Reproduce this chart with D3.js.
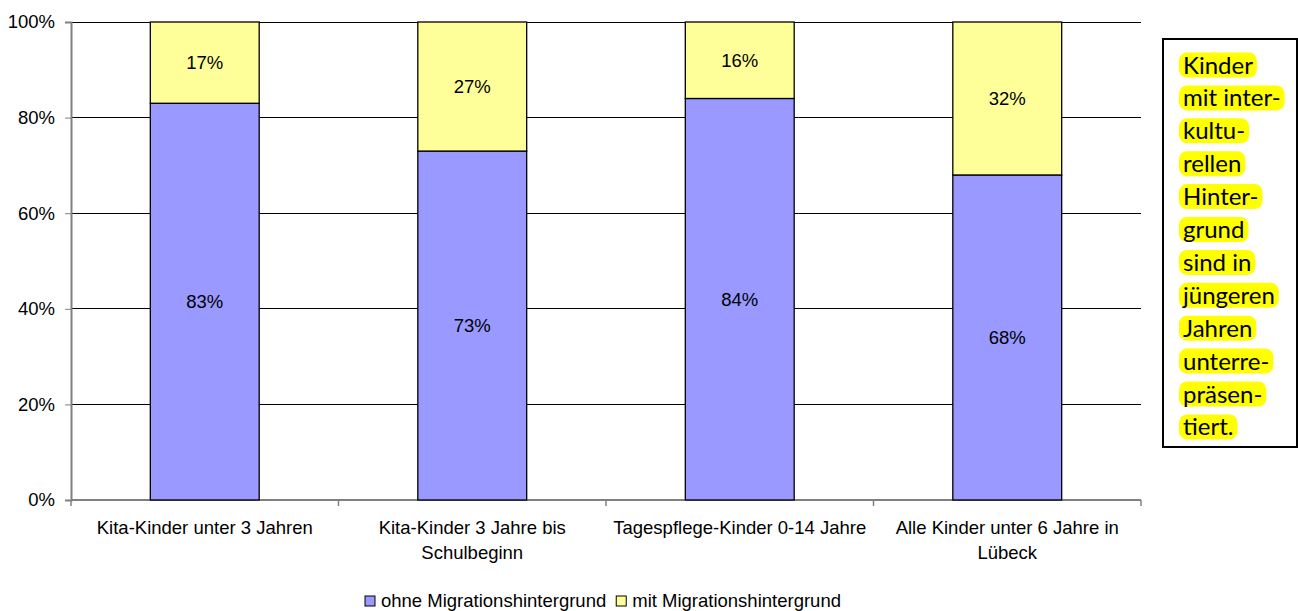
<!DOCTYPE html>
<html><head><meta charset="utf-8">
<script src="https://cdn.jsdelivr.net/npm/d3@7"></script>
<style>body{margin:0;background:#fff}svg{display:block}</style>
</head><body>
<svg id="c" width="1298" height="611"></svg>
<script>
const categories = [["Kita-Kinder unter 3 Jahren"],["Kita-Kinder 3 Jahre bis","Schulbeginn"],["Tagespflege-Kinder 0-14 Jahre"],["Alle Kinder unter 6 Jahre in","Lübeck"]];
const ohne = [83, 73, 84, 68];
const mit = [17, 27, 16, 32];
const seriesNames = ["ohne Migrationshintergrund", "mit Migrationshintergrund"];
const seriesColors = ["#9999FF", "#FFFF99"];
const yTicks = [0, 20, 40, 60, 80, 100];
const noteLines = ["Kinder","mit inter-","kultu-","rellen","Hinter-","grund","sind in","jüngeren","Jahren","unterre-","präsen-","tiert."];

const svg = d3.select("#c");
const F = "'Liberation Sans', Arial, sans-serif";
const FS = 18.5;
const L = 71, R = 1141, T = 22, B = 500;
const x = d3.scaleBand().domain(d3.range(categories.length)).range([L, R]).paddingInner(0.593).paddingOuter(0.2965);
const xc = d3.scaleBand().domain(d3.range(categories.length)).range([L, R]);
const y = d3.scaleLinear().domain([0, 100]).range([B, T]);

// gridlines
svg.append("g").selectAll("line").data(yTicks.filter(d => d > 0)).join("line")
  .attr("x1", L).attr("x2", R).attr("y1", d => y(d)).attr("y2", d => y(d))
  .attr("stroke", "#000").attr("stroke-width", 1).attr("shape-rendering", "crispEdges");

// y axis
const ya = svg.append("g").attr("transform", `translate(${L},0)`)
  .call(d3.axisLeft(y).tickValues(yTicks).tickFormat(d => d + "%").tickSize(6).tickPadding(10));
ya.select(".domain").attr("stroke", "#808080").attr("stroke-width", 2);
ya.selectAll(".tick line").attr("stroke", "#808080");
ya.selectAll(".tick text").attr("font-family", F).attr("font-size", FS).attr("fill", "#000");

// x axis
const xa = svg.append("g").attr("transform", `translate(0,${B})`);
xa.append("line").attr("x1", L).attr("x2", R).attr("stroke", "#808080").attr("stroke-width", 2);
xa.selectAll("line.tk").data(d3.range(categories.length + 1)).join("line").attr("class", "tk")
  .attr("x1", i => i < categories.length ? xc(i) : R).attr("x2", i => i < categories.length ? xc(i) : R)
  .attr("y1", 0).attr("y2", 6).attr("stroke", "#808080").attr("stroke-width", 1.5);
xa.selectAll("text").data(categories).join("text")
  .attr("text-anchor", "middle").attr("font-family", F).attr("font-size", FS)
  .each(function(d, i) {
    d3.select(this).selectAll("tspan").data(d).join("tspan")
      .attr("x", xc(i) + xc.bandwidth() / 2).attr("y", (t, j) => 34 + j * 25).text(t => t);
  });

// bars
const stackData = categories.map((c, i) => [[0, ohne[i]], [ohne[i], ohne[i] + mit[i]]]);
const vals = [ohne, mit];
const g = svg.append("g");
categories.forEach((c, i) => {
  [0, 1].forEach(s => {
    const [a, b] = stackData[i][s];
    g.append("rect").attr("x", x(i)).attr("width", x.bandwidth())
      .attr("y", y(b)).attr("height", y(a) - y(b))
      .attr("fill", seriesColors[s]).attr("stroke", "#000").attr("stroke-width", 1.3);
    g.append("text").attr("x", x(i) + x.bandwidth() / 2).attr("y", (y(a) + y(b)) / 2 + 6.5)
      .attr("text-anchor", "middle").attr("font-family", F).attr("font-size", FS)
      .text(vals[s][i] + "%");
  });
});

// legend
const lg = svg.append("g");
let lx = 365;
seriesNames.forEach((n, s) => {
  lg.append("rect").attr("x", lx).attr("y", 596).attr("width", 10).attr("height", 10)
    .attr("fill", seriesColors[s]).attr("stroke", "#000").attr("stroke-width", 1);
  const t = lg.append("text").attr("x", lx + 16).attr("y", 607).attr("font-family", F).attr("font-size", FS).text(n);
  lx = lx + 16 + t.node().getComputedTextLength() + 10;
});

// note box
svg.append("rect").attr("x", 1163).attr("y", 39).attr("width", 134).attr("height", 408)
  .attr("fill", "#fff").attr("stroke", "#000").attr("stroke-width", 2);
const ng = svg.append("g");
noteLines.forEach((t, i) => {
  const cy = 65 + i * 32.9;
  const hl = ng.append("rect");
  const tx = ng.append("text").attr("x", 1183).attr("y", cy + 8.5)
    .attr("font-family", "Lato, 'Open Sans', sans-serif").attr("font-size", 24).attr("fill", "#000").text(t);
  const w = tx.node().getComputedTextLength();
  hl.attr("x", 1179).attr("y", cy - 12.5).attr("width", w + 8).attr("height", 25).attr("rx", 8)
    .attr("fill", "#FFFF00");
});
</script>
</body></html>
